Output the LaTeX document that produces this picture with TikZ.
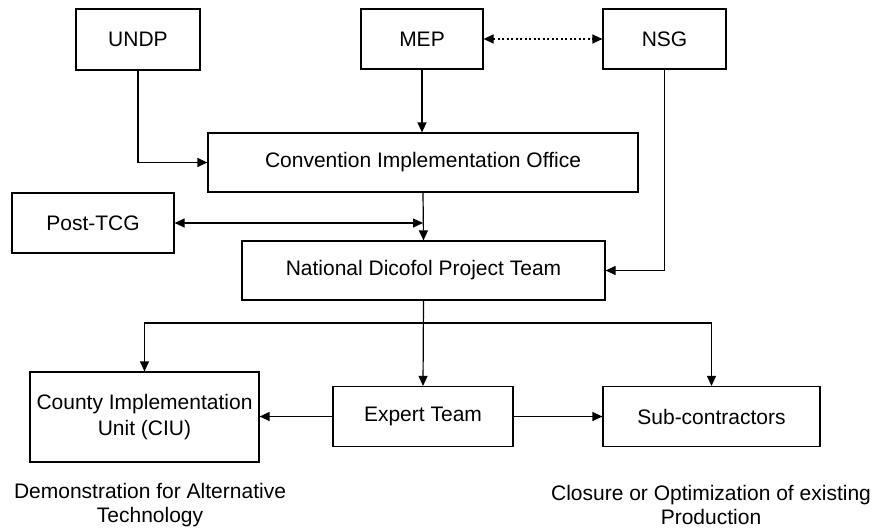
\documentclass[tikz,border=0pt]{standalone}
\usepackage{fontspec}
\setmainfont{Liberation Sans}
\usetikzlibrary{arrows.meta}
\begin{document}
\begin{tikzpicture}[x=1pt,y=-1pt,
  box/.style={draw,line width=1.2pt,inner sep=0pt,align=center,font=\fontsize{21}{26}\selectfont},
  lbl/.style={inner sep=0pt,align=center,font=\fontsize{21}{24}\selectfont},
  conn/.style={line width=1.2pt},
  arr/.style={conn,-{Triangle[length=10pt,width=9pt]}},
  arrb/.style={conn,{Triangle[length=10pt,width=9pt]}-{Triangle[length=10pt,width=9pt]}}]
\useasboundingbox (0,0) rectangle (877,530);
\node[box,minimum width=124pt,minimum height=61pt] (undp) at (138,39.5) {UNDP};
\node[box,minimum width=122pt,minimum height=60pt] (mep) at (422,39) {MEP};
\node[box,minimum width=123pt,minimum height=60pt] (nsg) at (664.5,39) {NSG};
\node[box,minimum width=430pt,minimum height=59pt] (cio) at (423,162.5) {Convention Implementation Office};
\node[box,minimum width=162pt,minimum height=60pt] (post) at (93,223) {Post-TCG};
\node[box,minimum width=363pt,minimum height=59pt] (ndpt) at (423.5,270.5) {National Dicofol Project Team};
\node[box,minimum width=229pt,minimum height=90pt] (ciu) at (144.5,417) {County Implementation\\Unit (CIU)};
\node[box,minimum width=180pt,minimum height=60pt] (exp) at (423,416.5) {Expert Team};
\node[box,minimum width=217pt,minimum height=60pt] (sub) at (711.5,416.5) {Sub-contractors};
\node[lbl] (demo) at (150,505) {Demonstration for Alternative\\Technology};
\node[lbl] (clos) at (711,505) {Closure or Optimization of existing\\Production};
\coordinate (j) at (423,223);
\coordinate (b) at (423,323);
\draw[arr] (undp.south) |- (cio.west);
\draw[arr] (mep.south) -- (cio.north -| mep.south);
\draw[arrb,dash pattern=on 2pt off 2.5pt] (mep.east) -- (nsg.west);
\draw[arr] (cio.south) -- (ndpt.north);
\draw[arrb] (post.east) -- (j);
\draw[arr] (nsg.south) |- (ndpt.east);
\draw[arr] (ndpt.south) -- (exp.north);
\draw[arr] (b) -| (ciu.north);
\draw[arr] (b) -| (sub.north);
\draw[arr] (exp.west) -- (ciu.east |- exp.west);
\draw[arr] (exp.east) -- (sub.west);
\end{tikzpicture}
\end{document}
